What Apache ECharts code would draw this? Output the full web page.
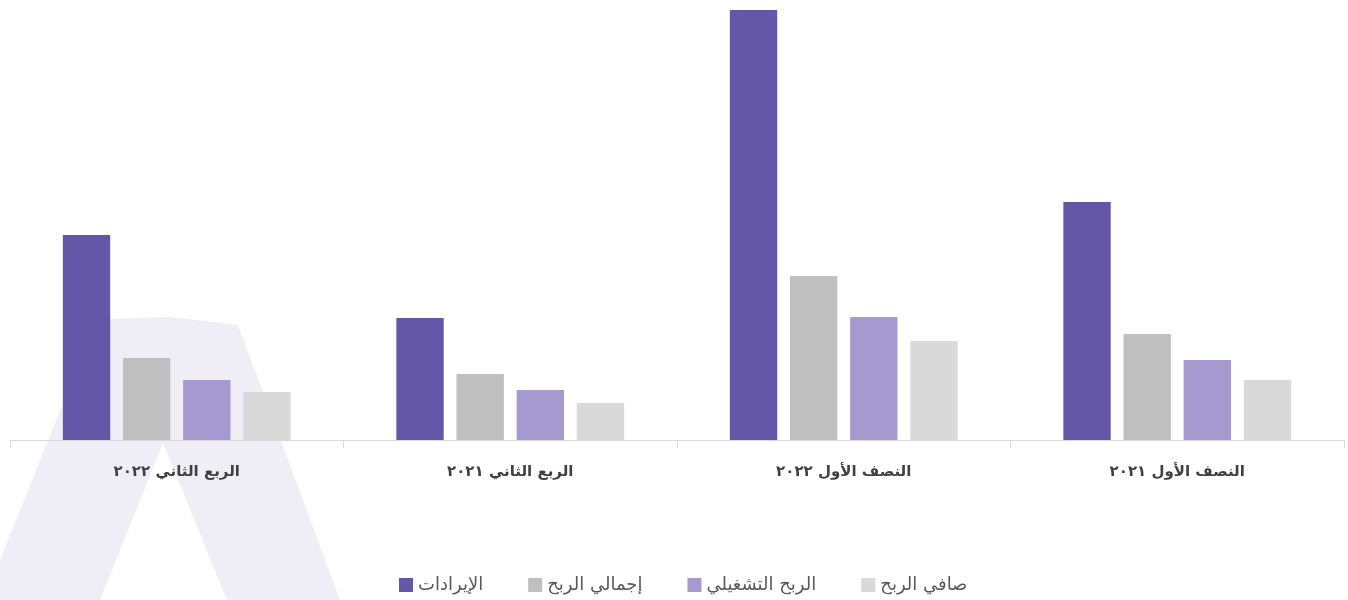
<!DOCTYPE html>
<html>
<head>
<meta charset="utf-8">
<script src="https://cdn.jsdelivr.net/npm/echarts@6/dist/echarts.min.js"></script>
<style>
html,body{margin:0;padding:0;background:#fff;}
#chart{width:1348px;height:600px;}
</style>
</head>
<body>
<div id="chart"></div>
<script>
const categories = ['الربع الثاني ٢٠٢٢', 'الربع الثاني ٢٠٢١', 'النصف الأول ٢٠٢٢', 'النصف الأول ٢٠٢١'];
const seriesNames = ['الإيرادات', 'إجمالي الربح', 'الربح التشغيلي', 'صافي الربح'];
const revenue = [205, 122, 430, 238];
const grossProfit = [82, 66, 164, 106];
const operatingProfit = [60, 50, 123, 80];
const netProfit = [48, 37, 99, 60];
const colors = ['#6457A8', '#BFBFBF', '#A599CF', '#D9D9D9'];

const chart = echarts.init(document.getElementById('chart'));
const font = "'DejaVu Sans', 'Noto Sans', sans-serif";
const dataSets = [revenue, grossProfit, operatingProfit, netProfit];

chart.setOption({
  animation: false,
  backgroundColor: '#ffffff',
  textStyle: { fontFamily: font },
  graphic: [{
    type: 'polygon',
    z: -10,
    silent: true,
    shape: {
      points: [[-16, 600], [94, 326], [108, 319], [170, 317], [238, 325], [340, 600], [227, 600], [163, 443], [100, 600]]
    },
    style: { fill: '#EFEEF6' }
  }],
  grid: { left: 10, right: 4, top: 10, bottom: 160, containLabel: false },
  legend: {
    bottom: 1,
    left: 394,
    itemWidth: 14,
    itemHeight: 14,
    itemGap: 45,
    icon: 'rect',
    textStyle: { fontSize: 18, color: '#595959', fontFamily: font },
    data: seriesNames
  },
  xAxis: {
    type: 'category',
    data: categories,
    axisLine: { lineStyle: { color: '#D9D9D9', width: 1 } },
    axisTick: { show: true, length: 8, lineStyle: { color: '#D9D9D9' } },
    axisLabel: { margin: 25, fontSize: 15, color: '#404040', fontWeight: 'bold', fontFamily: font }
  },
  yAxis: {
    type: 'value',
    min: 0,
    max: 430,
    show: false,
    splitLine: { show: false }
  },
  series: seriesNames.map((name, i) => ({
    name: name,
    type: 'bar',
    data: dataSets[i],
    barWidth: '14.2%',
    barGap: '27%',
    itemStyle: { color: colors[i] }
  }))
});
</script>
</body>
</html>
